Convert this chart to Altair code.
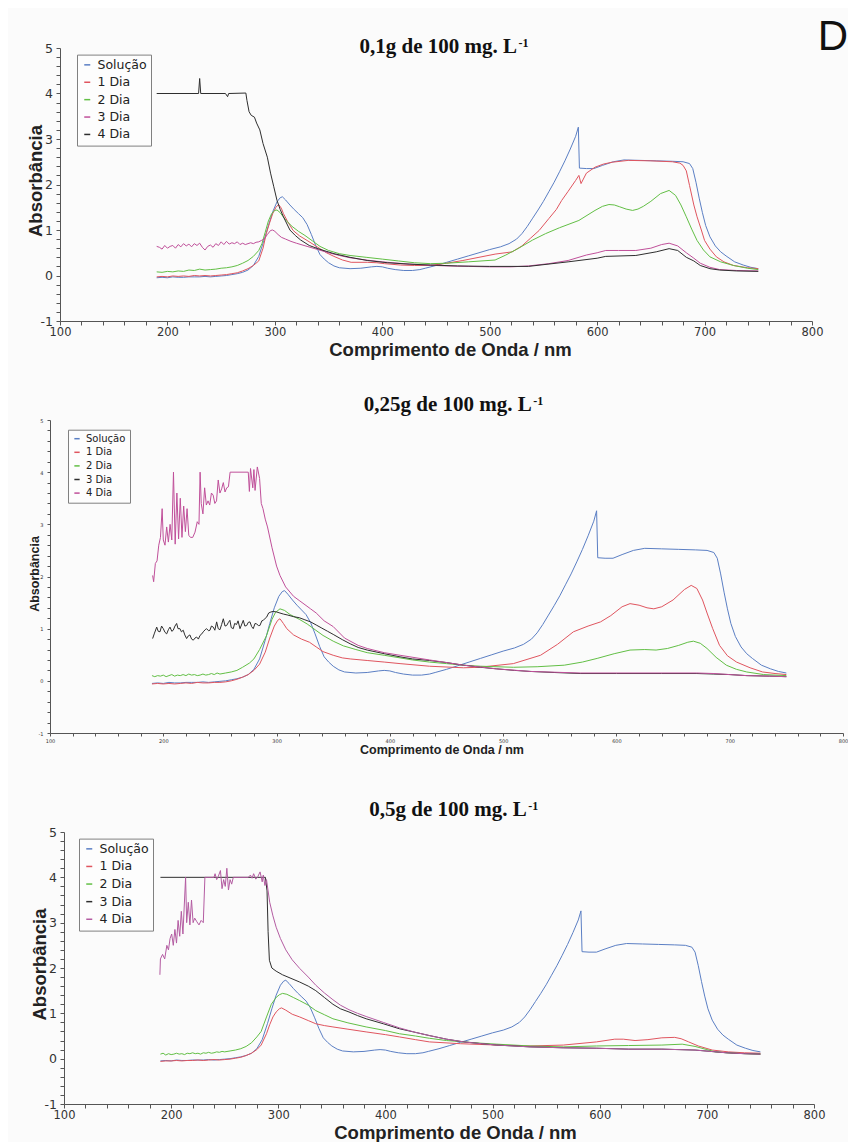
import altair as alt
import pandas as pd

SERIES = ["Solução", "1 Dia", "2 Dia", "3 Dia", "4 Dia"]
TITLES = ["0,1g de 100 mg. L", "0,25g de 100 mg. L", "0,5g de 100 mg. L"]
TITLE_SUP = "-1"
PANEL_LETTER = "D"
X_TITLE = "Comprimento de Onda / nm"
Y_TITLE = "Absorbância"

# Reference solution spectrum (same in every panel)
SOLUCAO = [(190,-0.05),(195,-0.04),(200,-0.05),(205,-0.03),(210,-0.04),(215,-0.04),(220,-0.03),(225,-0.03),
           (230,-0.03),(235,-0.02),(240,-0.03),(245,-0.02),(250,-0.01),(255,0.0),(260,0.02),(265,0.04),(270,0.07),
           (275,0.12),(280,0.22),(285,0.42),(290,0.78),(294,1.1),(298,1.4),(302,1.62),(305,1.71),(307,1.73),
           (310,1.66),(314,1.55),(318,1.45),(322,1.36),(326,1.27),(330,1.12),(334,0.9),(338,0.66),(342,0.46),
           (346,0.36),(350,0.28),(355,0.21),(360,0.17),(370,0.15),(380,0.16),(390,0.19),(395,0.2),(400,0.19),
           (405,0.16),(412,0.13),(420,0.11),(428,0.11),(435,0.13),(440,0.16),(450,0.22),(460,0.29),(470,0.36),
           (480,0.43),(490,0.5),(500,0.57),(510,0.63),(518,0.7),(525,0.8),(530,0.92),(535,1.08),(540,1.26),
           (545,1.44),(550,1.63),(555,1.84),(560,2.05),(565,2.28),(570,2.52),(575,2.78),(580,3.06),(582.5,3.26),
           (583.5,2.36),(590,2.35),(597,2.35),(605,2.42),(615,2.5),(625,2.54),(640,2.53),(655,2.52),(670,2.51),
           (680,2.5),(686,2.46),(689,2.35),(692,2.05),(695,1.7),(698,1.38),(701,1.1),(705,0.85),(710,0.65),
           (715,0.52),(720,0.43),(728,0.3),(736,0.23),(743,0.18),(750,0.15)]

# ---- Panel 1: 0,1 g ----
P1_DIA1 = [(190,-0.03),(195,-0.02),(200,-0.03),(205,-0.01),(210,-0.02),(215,-0.01),(220,-0.02),(225,0.0),
           (230,-0.01),(235,0.0),(240,-0.01),(245,0.0),(250,0.01),(255,0.02),(260,0.04),(265,0.06),(270,0.1),
           (275,0.15),(280,0.22),(285,0.32),(289,0.6),(292,0.92),(295,1.15),(298,1.36),(301,1.5),(303.5,1.56),
           (306,1.48),(308,1.36),(312,1.18),(317,0.99),(323,0.87),(330,0.77),(340,0.62),(348,0.5),(355,0.42),
           (363,0.34),(371,0.29),(386,0.29),(395,0.28),(402,0.26),(417,0.23),(430,0.22),(445,0.22),(460,0.27),
           (475,0.33),(490,0.4),(505,0.47),(521,0.52),(530,0.65),(538,0.82),(546,0.99),(555,1.25),(562,1.45),
           (567,1.65),(573,1.85),(580,2.09),(583,2.2),(585,2.02),(590,2.25),(598,2.38),(606,2.45),(614,2.49),
           (629,2.53),(650,2.52),(670,2.5),(677,2.47),(680,2.42),(683,2.3),(686,1.98),(690,1.55),(693,1.29),
           (697,1.0),(700,0.77),(705,0.58),(711,0.41),(718,0.3),(727,0.22),(740,0.17),(750,0.15)]
P1_DIA2 = [(190,0.08),(195,0.07),(200,0.09),(205,0.08),(210,0.1),(215,0.09),(220,0.12),(225,0.11),(230,0.14),
           (235,0.12),(240,0.13),(245,0.14),(250,0.16),(255,0.17),(260,0.19),(265,0.22),(270,0.27),(275,0.33),
           (280,0.42),(285,0.55),(288,0.7),(291,0.95),(294,1.2),(297,1.36),(300,1.43),(302,1.44),(305,1.38),
           (310,1.22),(316,1.08),(322,0.97),(328,0.88),(335,0.76),(342,0.64),(350,0.55),(360,0.48),(370,0.44),
           (385,0.4),(400,0.36),(415,0.32),(430,0.28),(445,0.26),(460,0.27),(480,0.3),(505,0.34),(515,0.45),
           (527,0.6),(540,0.78),(552,0.92),(565,1.05),(583,1.21),(598,1.43),(605,1.52),(611,1.56),(616,1.55),
           (621,1.51),(627,1.46),(633,1.43),(638,1.46),(643,1.52),(650,1.63),(659,1.8),(667,1.87),(673,1.76),
           (678,1.55),(683,1.29),(688,1.02),(693,0.77),(699,0.56),(705,0.41),(715,0.3),(727,0.22),(740,0.16),
           (750,0.13)]
P1_DIA3 = [(190,0.64),(192.5,0.62),(195,0.58),(197.5,0.66),(200,0.6),(202.5,0.64),(205,0.66),(207.5,0.6),
           (210,0.68),(212.5,0.63),(215,0.7),(217.5,0.65),(220,0.69),(222.5,0.63),(225,0.7),(227.5,0.66),
           (230,0.71),(232.5,0.62),(235,0.56),(237.5,0.64),(240,0.67),(242.5,0.62),(245,0.7),(247.5,0.66),
           (250,0.74),(252.5,0.68),(255,0.75),(257.5,0.69),(260,0.72),(262.5,0.7),(265,0.74),(267.5,0.68),
           (270,0.71),(272.5,0.68),(275,0.7),(277.5,0.72),(280,0.7),(282.5,0.73),(285,0.74),(287.5,0.77),
           (290,0.8),(293,0.9),(296,0.99),(298,1.0),(300,0.97),(303,0.9),(306,0.84),(310,0.8),(315,0.75),
           (320,0.71),(330,0.64),(340,0.57),(350,0.5),(360,0.44),(370,0.39),(385,0.34),(400,0.3),(420,0.26),
           (440,0.23),(460,0.21),(480,0.2),(500,0.19),(520,0.19),(536,0.21),(555,0.26),(573,0.33),(590,0.45),
           (600,0.5),(608,0.55),(620,0.55),(636,0.55),(650,0.6),(660,0.68),(667,0.71),(675,0.65),(683,0.5),
           (690,0.38),(696,0.27),(705,0.18),(714,0.13),(730,0.11),(750,0.1)]
P1_DIA4 = [(190,4.0),(229,4.0),(230,4.33),(231,4.0),(254,4.0),(256,3.93),(257,4.0),(273,4.01),(274,3.85),
           (276,3.6),(278,3.52),(281,3.48),(283,3.35),(286,3.2),(289,2.9),(293,2.6),(296,2.25),(299,1.95),
           (302,1.65),(305,1.45),(308,1.29),(314,1.0),(319,0.88),(324,0.78),(332,0.66),(340,0.59),(355,0.48),
           (370,0.4),(386,0.33),(405,0.28),(425,0.25),(445,0.23),(470,0.21),(500,0.2),(536,0.2),(573,0.3),
           (600,0.38),(608,0.42),(636,0.44),(655,0.52),(667,0.59),(675,0.55),(683,0.4),(690,0.32),(696,0.22),
           (705,0.15),(714,0.12),(730,0.1),(750,0.09)]

# ---- Panel 2: 0,25 g ----
P2_DIA1 = [(190,-0.06),(195,-0.05),(200,-0.06),(205,-0.05),(210,-0.06),(215,-0.05),(220,-0.04),(225,-0.05),
           (230,-0.03),(235,-0.04),(240,-0.04),(245,-0.03),(250,-0.03),(255,-0.02),(260,0.0),(265,0.03),
           (270,0.07),(275,0.12),(280,0.2),(285,0.32),(290,0.55),(294,0.82),(298,1.05),(301,1.16),(303,1.19),
           (306,1.1),(309,1.0),(315,0.88),(322,0.8),(329,0.74),(335,0.65),(341,0.56),(350,0.49),(358,0.44),
           (365,0.42),(380,0.39),(395,0.36),(409,0.33),(435,0.28),(465,0.25),(479,0.26),(509,0.33),(533,0.49),
           (548,0.7),(562,0.94),(575,1.05),(586,1.13),(595,1.25),(605,1.42),(612,1.48),(620,1.45),(627,1.4),
           (633,1.38),(640,1.42),(650,1.55),(660,1.75),(666,1.83),(671,1.77),(676,1.55),(680,1.3),(685,1.0),
           (691,0.68),(698,0.48),(706,0.36),(718,0.25),(729,0.17),(740,0.14),(750,0.12)]
P2_DIA2 = [(190,0.1),(192.5,0.08),(195,0.1),(197.5,0.09),(200,0.11),(202.5,0.08),(205,0.1),(207.5,0.12),
           (210,0.09),(212.5,0.11),(215,0.1),(217.5,0.12),(220,0.1),(222.5,0.13),(225,0.11),(227.5,0.12),
           (230,0.1),(232.5,0.11),(235,0.13),(237.5,0.11),(240,0.12),(242.5,0.14),(245,0.12),(247.5,0.15),
           (250,0.13),(255,0.15),(260,0.17),(265,0.2),(270,0.26),(276,0.34),(280,0.42),(285,0.6),(291,0.86),
           (296,1.18),(299,1.31),(303,1.38),(307,1.35),(312,1.27),(320,1.18),(327,1.09),(334,0.98),(341,0.87),
           (350,0.76),(359,0.67),(370,0.6),(380,0.54),(395,0.49),(409,0.44),(420,0.4),(435,0.36),(450,0.33),
           (465,0.3),(480,0.28),(509,0.26),(530,0.27),(554,0.3),(570,0.36),(583,0.43),(598,0.52),(612,0.59),
           (625,0.6),(635,0.59),(645,0.62),(655,0.68),(663,0.74),(668,0.76),(674,0.72),(680,0.62),(688,0.45),
           (697,0.3),(706,0.22),(715,0.17),(730,0.12),(750,0.1)]
P2_DIA3 = [(190.6,0.81),(192,0.9),(194.2,1.03),(195.5,0.95),(197.1,0.94),(198.5,1.05),(200,1.0),(201.5,0.93),
           (203,0.9),(204.5,0.98),(205.9,1.03),(207.5,0.95),(208.8,0.97),(210.3,1.05),(211.8,1.1),(213,1.0),
           (214.7,1.0),(216,0.94),(217.6,0.97),(219,0.88),(220.6,0.81),(222,0.86),(223.5,0.88),(225,0.8),
           (226.5,0.78),(228,0.82),(229.4,0.84),(231,0.8),(232.4,0.87),(234,0.9),(235.3,0.94),(237,0.98),
           (238.2,1.0),(240,0.96),(241.2,0.97),(242.5,1.05),(244.1,1.03),(245.5,0.97),(247.1,1.13),(248.5,1.0),
           (250,0.98),(251.5,1.08),(253,1.19),(254.5,1.05),(255.9,1.06),(257.5,1.12),(258.8,1.16),(260,1.02),
           (261.8,1.0),(263,1.1),(264.7,1.08),(266,1.15),(267.7,1.0),(269,1.07),(270.6,1.16),(272,1.05),
           (273.6,1.06),(275,1.12),(276.5,1.13),(278,1.04),(279.4,1.0),(281,1.1),(282.4,1.09),(284,1.06),
           (285.3,1.06),(287,1.15),(288.3,1.16),(290,1.2),(291.2,1.22),(293,1.3),(295,1.32),(297,1.33),
           (300,1.32),(303,1.3),(306,1.28),(310,1.26),(315,1.23),(320,1.21),(325,1.17),(330,1.13),(335,1.07),
           (340,1.01),(345,0.95),(350,0.89),(358,0.79),(365,0.71),(372,0.64),(380,0.59),(395,0.52),(409,0.46),
           (420,0.42),(435,0.39),(450,0.35),(465,0.3),(480,0.26),(494,0.23),(510,0.2),(524,0.18),(545,0.16),
           (568,0.14),(600,0.14),(640,0.14),(671,0.14),(686,0.13),(700,0.12),(715,0.1),(735,0.09),(750,0.08)]
P2_DIA4 = [(190.6,2.02),(191.5,1.9),(193,2.25),(194.5,2.3),(196,2.6),(197.5,2.75),(199,3.3),(200,2.7),
           (201.5,2.6),(203,2.95),(204.5,2.66),(206,3.0),(207.5,2.7),(209,4.0),(210.5,2.62),(212,3.6),
           (213.5,2.72),(215,3.5),(216.5,2.75),(218,3.35),(219.5,2.86),(221,3.3),(222.5,2.79),(224,2.75),
           (226,2.75),(228,2.85),(230,3.05),(231.5,3.0),(232.5,4.0),(233.5,3.4),(235,3.2),(236.5,3.7),
           (238,3.37),(239.5,3.45),(241,3.37),(242.5,3.6),(244,3.56),(245.5,3.4),(247,3.45),(248.5,3.85),
           (250,3.6),(251.5,3.68),(253,3.8),(254.5,3.62),(256,3.7),(257.5,3.72),(259,4.0),(275,4.0),(276,3.63),
           (277,4.07),(279,3.7),(280,4.05),(281,3.65),(283,4.1),(285,3.88),(286.5,3.4),(288,3.3),(290,3.1),
           (292,2.95),(296,2.55),(300,2.2),(303,2.02),(308,1.8),(315,1.62),(320,1.54),(330,1.38),(335,1.3),
           (342,1.15),(350,1.04),(360,0.82),(372,0.68),(380,0.62),(395,0.54),(409,0.49),(435,0.4),(465,0.3),
           (494,0.23),(524,0.18),(568,0.15),(612,0.15),(671,0.15),(686,0.14),(700,0.12),(715,0.1),(735,0.09),
           (750,0.08)]

# ---- Panel 3: 0,5 g ----
P3_DIA1 = [(190,-0.06),(195,-0.05),(200,-0.05),(205,-0.04),(210,-0.05),(215,-0.04),(220,-0.04),(225,-0.03),
           (230,-0.04),(235,-0.03),(240,-0.02),(245,-0.03),(250,-0.02),(255,-0.01),(260,0.01),(265,0.03),
           (270,0.07),(275,0.12),(280,0.2),(284,0.3),(289,0.55),(292,0.75),(295,0.92),(298,1.03),(301,1.1),
           (303,1.12),(307,1.07),(313,0.98),(320,0.92),(328,0.84),(335,0.77),(343,0.73),(351,0.7),(365,0.65),
           (382,0.59),(400,0.53),(413,0.48),(428,0.42),(441,0.37),(470,0.33),(504,0.3),(535,0.28),(566,0.3),
           (597,0.37),(614,0.43),(622,0.43),(633,0.4),(645,0.42),(658,0.46),(670,0.47),(676,0.44),(683,0.37),
           (692,0.28),(705,0.19),(720,0.15),(735,0.13),(750,0.12)]
P3_DIA2 = [(190,0.1),(192.5,0.12),(195,0.08),(197.5,0.11),(200,0.09),(202.5,0.1),(205,0.12),(207.5,0.1),
           (210,0.11),(212.5,0.09),(215,0.12),(217.5,0.11),(220,0.13),(222.5,0.11),(225,0.12),(227.5,0.1),
           (230,0.13),(232.5,0.12),(235,0.14),(237.5,0.12),(240,0.13),(242.5,0.15),(245,0.14),(247.5,0.16),
           (250,0.15),(255,0.17),(260,0.19),(265,0.22),(270,0.27),(275,0.35),(280,0.48),(284,0.6),(289,0.92),
           (293.5,1.2),(298,1.35),(301,1.41),(304,1.44),(308,1.42),(314,1.35),(320,1.28),(328,1.18),(335,1.06),
           (343,0.97),(351,0.88),(365,0.79),(382,0.7),(400,0.62),(413,0.55),(428,0.5),(441,0.45),(457,0.4),
           (473,0.37),(490,0.34),(504,0.32),(535,0.28),(566,0.26),(597,0.28),(627,0.29),(658,0.3),(677,0.32),
           (689,0.27),(700,0.2),(708,0.15),(725,0.12),(750,0.1)]
P3_DIA3 = [(190,4.0),(288,4.0),(289.5,3.7),(290.5,2.8),(291.7,2.17),(294,2.0),(298,1.93),(304,1.85),
           (310,1.79),(320,1.69),(328,1.6),(335,1.5),(343,1.35),(351,1.2),(358,1.1),(366,1.03),(374,0.95),
           (382,0.88),(398,0.77),(413,0.66),(428,0.58),(441,0.51),(457,0.43),(473,0.37),(490,0.33),(504,0.3),
           (535,0.26),(566,0.24),(597,0.23),(627,0.21),(658,0.21),(689,0.19),(718,0.13),(735,0.11),(750,0.1)]
P3_DIA4 = [(189.5,1.85),(190,2.2),(192,2.3),(194,2.2),(196,2.5),(197.5,2.4),(199,2.65),(200.5,2.75),(202,2.5),
           (203.5,2.85),(205,2.55),(206.5,3.05),(208,2.7),(209.5,3.25),(211,2.75),(213.5,4.0),(214.5,3.0),
           (216,3.45),(217.5,2.95),(219,3.5),(220.5,3.0),(222,3.1),(224,3.02),(226,2.95),(228,3.05),(230,3.0),
           (231.5,4.0),(240,4.0),(241,4.08),(242.5,3.95),(244,4.02),(246,4.15),(247.5,3.75),(249,3.95),
           (250.5,3.8),(252,4.2),(253.5,3.72),(255,3.95),(256.5,3.85),(258,4.0),(272,4.0),(274,4.05),
           (275.5,3.98),(277,4.08),(279,3.96),(281,4.02),(283,4.12),(285,3.9),(286,4.05),(287.5,3.82),(289,3.95),
           (290.5,3.7),(292,3.45),(295,3.15),(298,2.9),(302,2.65),(307,2.4),(313,2.18),(320,1.99),(328,1.8),
           (335,1.62),(343,1.45),(351,1.3),(358,1.18),(366,1.08),(374,1.0),(382,0.93),(398,0.8),(413,0.68),
           (428,0.58),(441,0.51),(457,0.43),(473,0.37),(490,0.33),(504,0.3),(535,0.26),(566,0.24),(597,0.23),
           (627,0.21),(658,0.21),(689,0.19),(718,0.13),(735,0.11),(750,0.1)]

X_TICKS = list(range(100, 801, 20))
Y_TICKS = [round(-1 + 0.2 * i, 1) for i in range(31)]

BLUE, RED, GREEN = "#5b7fc4", "#e0555f", "#62bf45"
MAGENTA, DARK, PURPLE = "#c0509a", "#2e2e2e", "#b45ca2"
BG = "#fbfbfb"


def frame(series_list):
    rows = []
    for name, pts in zip(SERIES, series_list):
        for k, (w, a) in enumerate(pts):
            rows.append({"serie": name, "wl": w, "absb": a, "k": k})
    return pd.DataFrame(rows)


def panel(series_list, colors, c, title, letter=False):
    df = frame(series_list)
    xaxis = alt.Axis(values=X_TICKS, grid=False, labelOverlap=False, labelFlush=False,
                     labelExpr="datum.value % 100 === 0 ? '' + datum.value : ''",
                     labelFont="DejaVu Sans", labelFontSize=c["xlfs"], labelColor="#333",
                     labelPadding=c["lpx"], tickSize=c["tick"], tickColor="#555", domainColor="#555",
                     title=X_TITLE, titleFont="Liberation Sans", titleFontSize=c["xtfs"], titleFontWeight="bold",
                     titleColor="#222", titleAlign="center", titleBaseline="alphabetic",
                     titleX=c["xtx"], titleY=c["xty"])
    yaxis = alt.Axis(values=Y_TICKS, grid=False, labelOverlap=False, labelFlush=False, offset=c["yoff"],
                     labelExpr="abs(datum.value - round(datum.value)) < 0.01 ? '' + round(datum.value) : ''",
                     labelFont="DejaVu Sans", labelFontSize=c["lfs"], labelColor="#333",
                     labelPadding=c["lpy"], tickSize=c["tick"], tickColor="#555", domainColor="#555",
                     title=Y_TITLE, titleFont="Liberation Sans", titleFontSize=c["ytfs"], titleFontWeight="bold",
                     titleColor="#222", titleAlign="center", titleBaseline="middle", titleAngle=270,
                     titleX=c["ytx"], titleY=c["yty"])
    legend = alt.Legend(orient="none", legendX=c["lgx"], legendY=c["lgy"], title=None, direction="vertical",
                        symbolType="stroke", symbolSize=c["sym"], symbolStrokeWidth=1.5,
                        labelFont="DejaVu Sans", labelFontSize=c["lgfs"], labelColor="#222",
                        fillColor="#fdfdfd", strokeColor="#808080", padding=4, rowPadding=c["rp"],
                        labelOffset=4)
    lines = alt.Chart(df).mark_line(strokeWidth=1).encode(
        x=alt.X("wl:Q", scale=alt.Scale(domain=[100, 800], range=c["xr"], nice=False, zero=False), axis=xaxis),
        y=alt.Y("absb:Q", scale=alt.Scale(domain=[-1, 5], nice=False, zero=False), axis=yaxis),
        color=alt.Color("serie:N", scale=alt.Scale(domain=SERIES, range=colors), legend=legend, sort=SERIES),
        order="k:Q",
    )
    tmain = alt.Chart(pd.DataFrame({"t": [title]})).mark_text(
        align="right", baseline="alphabetic", font="Liberation Serif", fontSize=21, fontWeight="bold",
        color="#111").encode(x=alt.value(c["tx"]), y=alt.value(c["ty"]), text="t:N")
    tsup = alt.Chart(pd.DataFrame({"t": [TITLE_SUP]})).mark_text(
        align="left", baseline="alphabetic", font="Liberation Serif", fontSize=12, fontWeight="bold",
        color="#111").encode(x=alt.value(c["tx"] + 1.5), y=alt.value(c["ty"] - 6), text="t:N")
    layers = [lines, tmain, tsup]
    if letter:
        layers.append(alt.Chart(pd.DataFrame({"t": [PANEL_LETTER]})).mark_text(
            align="right", baseline="alphabetic", font="Liberation Sans", fontSize=42, color="#111"
        ).encode(x=alt.value(798), y=alt.value(2.3), text="t:N"))
    return alt.layer(*layers).properties(width=793, height=c["h"])


C1 = dict(h=273, xr=[10, 762], yoff=-10, lfs=12.5, xlfs=11.5, lpx=1, lpy=3.5, tick=4, xtfs=18.5, ytfs=18.5,
          xtx=400, xty=34, ytx=-24.5, yty=132.5, lgx=27, lgy=6.6, lgfs=12.5, rp=4.4, sym=36,
          tx=467, ty=5.0)
C2 = dict(h=313, xr=[0, 793], yoff=0, lfs=5, xlfs=5, lpx=2, lpy=4, tick=3, xtfs=12.5, ytfs=12.5,
          xtx=391.5, xty=20, ytx=-16, yty=153.5, lgx=18, lgy=9.7, lgfs=10, rp=3.6, sym=28,
          tx=481.7, ty=-9)
C3 = dict(h=272, xr=[14, 764], yoff=-14, lfs=12.5, xlfs=11.5, lpx=1, lpy=3.5, tick=4, xtfs=18.5, ytfs=18.5,
          xtx=405, xty=34.3, ytx=-24.5, yty=132, lgx=29, lgy=6.6, lgfs=12.5, rp=4.6, sym=36,
          tx=476.7, ty=-15.7)

p1 = panel([SOLUCAO, P1_DIA1, P1_DIA2, P1_DIA3, P1_DIA4], [BLUE, RED, GREEN, MAGENTA, DARK], C1, TITLES[0], True)
p2 = panel([SOLUCAO, P2_DIA1, P2_DIA2, P2_DIA3, P2_DIA4], [BLUE, RED, GREEN, DARK, MAGENTA], C2, TITLES[1])
p3 = panel([SOLUCAO, P3_DIA1, P3_DIA2, P3_DIA3, P3_DIA4], [BLUE, RED, GREEN, DARK, PURPLE], C3, TITLES[2])

chart = alt.vconcat(p1, p2, p3, spacing=99, bounds="flush").resolve_scale(
    x="independent", y="independent", color="independent"
).properties(padding={"left": 18, "top": 8, "right": 0, "bottom": 0}, background=BG).configure_view(stroke=None)

chart.save("out.html", embed_options={"renderer": "svg", "actions": False})
